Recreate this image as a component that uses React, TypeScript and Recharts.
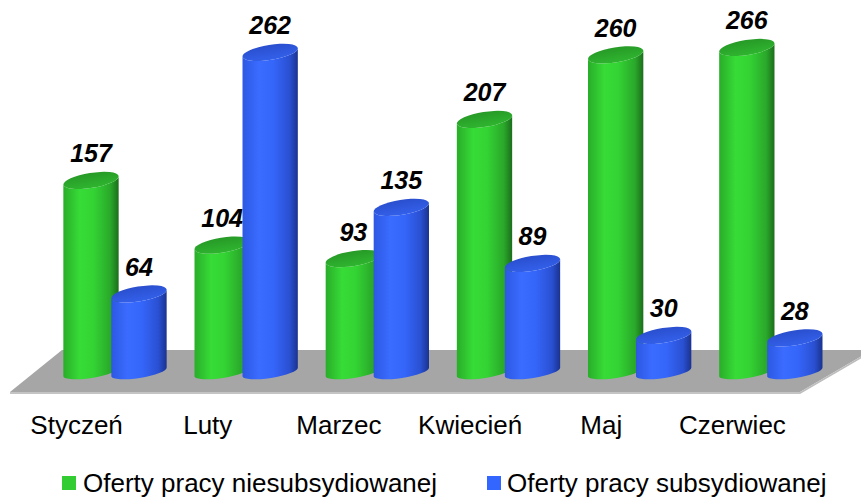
import { BarChart, Bar, XAxis, YAxis, LabelList } from 'recharts';

const months = ['Styczeń', 'Luty', 'Marzec', 'Kwiecień', 'Maj', 'Czerwiec'];
const niesubsydiowane = [157, 104, 93, 207, 260, 266];
const subsydiowane = [64, 262, 135, 89, 30, 28];
const seriesNames = ['Oferty pracy niesubsydiowanej', 'Oferty pracy subsydiowanej'];

const chartData = months.map((month, i) => ({
  month,
  nies: niesubsydiowane[i],
  sub: subsydiowane[i],
}));

const FONT = '"Liberation Sans", Arial, sans-serif';

const palettes: Record<string, { stops: string[]; top: string; topLight: string }> = {
  green: {
    stops: ['#29ad29', '#37dc37', '#33d333', '#2aa82a', '#1b6e1b'],
    top: '#279a27',
    topLight: '#2fb52f',
  },
  blue: {
    stops: ['#2d58e3', '#3a6cff', '#3566fa', '#2a50d2', '#1a338f'],
    top: '#2a4fce',
    topLight: '#3360ea',
  },
};

const TILT = 9; // degrees, tops rise to the right
const RY_TOP = 7.5;
const RY_BOTTOM = 6;

function Cylinder(props: any) {
  const { x, y, width, height, index, palette } = props;
  if (width == null || height == null) return null;
  const p = palettes[palette];
  const rx = width / 2;
  const cx = x + rx;
  const rad = (TILT * Math.PI) / 180;
  const ex = rx * Math.cos(rad);
  const ey = rx * Math.sin(rad);
  const yb = y + height;
  const id = `${palette}-${index}`;
  const body = [
    `M ${cx - ex} ${y + ey}`,
    `L ${cx - ex} ${yb + ey}`,
    `A ${rx} ${RY_BOTTOM} ${-TILT} 0 0 ${cx + ex} ${yb - ey}`,
    `L ${cx + ex} ${y - ey}`,
    `A ${rx} ${RY_TOP} ${-TILT} 0 1 ${cx - ex} ${y + ey}`,
    'Z',
  ].join(' ');
  return (
    <g>
      <defs>
        <linearGradient id={`body-${id}`} x1="0" y1="0" x2="1" y2="0">
          <stop offset="0" stopColor={p.stops[0]} />
          <stop offset="0.3" stopColor={p.stops[1]} />
          <stop offset="0.55" stopColor={p.stops[2]} />
          <stop offset="0.85" stopColor={p.stops[3]} />
          <stop offset="1" stopColor={p.stops[4]} />
        </linearGradient>
        <linearGradient id={`top-${id}`} x1="0" y1="0" x2="0" y2="1">
          <stop offset="0" stopColor={p.top} />
          <stop offset="1" stopColor={p.topLight} />
        </linearGradient>
      </defs>
      <path d={body} fill={`url(#body-${id})`} />
      <ellipse
        cx={cx}
        cy={y}
        rx={rx}
        ry={RY_TOP}
        transform={`rotate(${-TILT} ${cx} ${y})`}
        fill={`url(#top-${id})`}
      />
    </g>
  );
}

function ValueLabel(props: any) {
  const { x, y, width, value } = props;
  return (
    <text
      x={x + width / 2}
      y={y - 18}
      textAnchor="middle"
      fontFamily={FONT}
      fontSize={25}
      fontWeight="bold"
      fontStyle="italic"
      fill="#000"
    >
      {value}
    </text>
  );
}

function MonthTick(props: any) {
  const { x, y, payload } = props;
  return (
    <text x={x - 38} y={y + 62} textAnchor="middle" fontFamily={FONT} fontSize={26} fill="#000">
      {payload.value}
    </text>
  );
}

export default function App() {
  return (
    <div style={{ position: 'absolute', left: 0, top: 0, width: 861, height: 498, background: '#fff' }}>
      <svg width={861} height={498} style={{ position: 'absolute', left: 0, top: 0 }}>
        <polygon points="10,392 800,392 872,350 62,350" fill="#a6a6a6" />
        <polygon points="10,392 800,392 800,394 10,394" fill="#c4c4c4" />
        <polygon points="800,392 872,350 872,352 800,394" fill="#bdbdbd" />
      </svg>
      <div style={{ position: 'absolute', left: 0, top: 0 }}>
        <BarChart
          width={861}
          height={498}
          data={chartData}
          margin={{ top: 6, right: 25, left: 49, bottom: 66 }}
          barSize={56}
          barGap={-8}
        >
          <XAxis
            dataKey="month"
            axisLine={false}
            tickLine={false}
            tickSize={0}
            tickMargin={0}
            height={60}
            interval={0}
            tick={<MonthTick />}
          />
          <YAxis hide domain={[0, 300]} />
          <Bar
            dataKey="nies"
            name={seriesNames[0]}
            fill="#33cc33"
            isAnimationActive={false}
            shape={(p: any) => <Cylinder {...p} palette="green" />}
          >
            <LabelList dataKey="nies" content={<ValueLabel />} />
          </Bar>
          <Bar
            dataKey="sub"
            name={seriesNames[1]}
            fill="#3366ff"
            isAnimationActive={false}
            shape={(p: any) => <Cylinder {...p} palette="blue" />}
          >
            <LabelList dataKey="sub" content={<ValueLabel />} />
          </Bar>
        </BarChart>
      </div>
      <div
        style={{
          position: 'absolute',
          left: 62,
          top: 470,
          display: 'flex',
          alignItems: 'center',
          fontFamily: FONT,
          fontSize: 26,
          lineHeight: '26px',
          color: '#000',
          whiteSpace: 'nowrap',
        }}
      >
        <span style={{ width: 14, height: 14, background: '#33cc33', marginRight: 7 }} />
        <span>{seriesNames[0]}</span>
        <span style={{ width: 14, height: 14, background: '#3366ff', marginLeft: 50, marginRight: 6 }} />
        <span>{seriesNames[1]}</span>
      </div>
    </div>
  );
}
